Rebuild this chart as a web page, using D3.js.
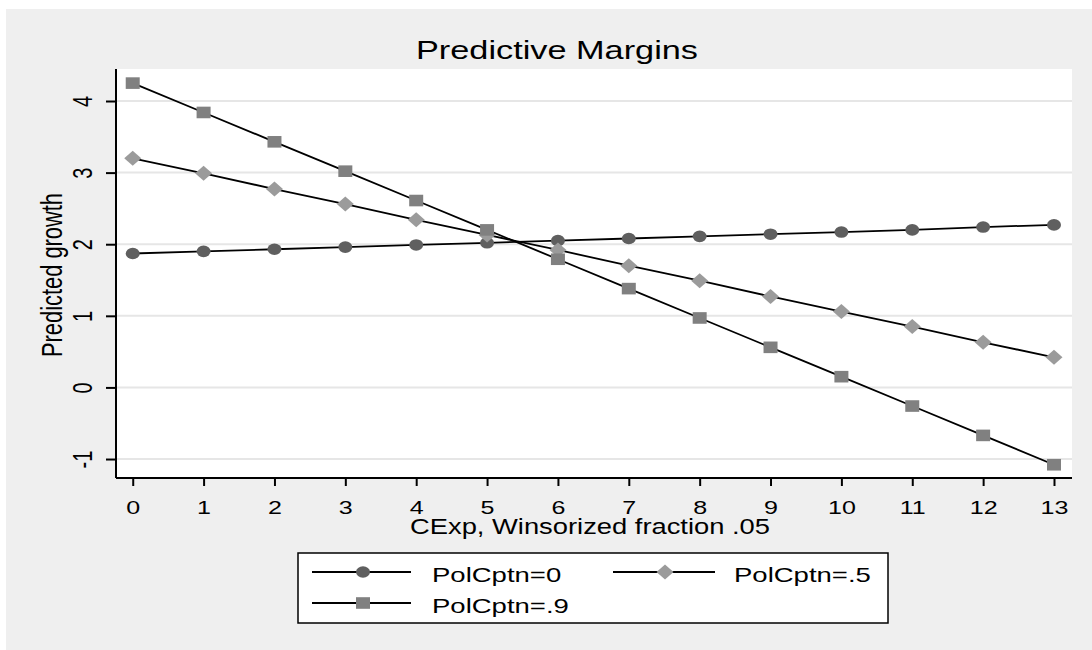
<!DOCTYPE html>
<html>
<head>
<meta charset="utf-8">
<script src="https://cdn.jsdelivr.net/npm/d3@7"></script>
<style>
  html, body { margin: 0; padding: 0; background: #ffffff; }
  svg { display: block; }
  text { font-family: "Liberation Sans", Arial, Helvetica, sans-serif; fill: #000; }
</style>
</head>
<body>
<svg id="chart" width="1092" height="650"></svg>
<script>
// ---- data ----
const xValues = [0, 1, 2, 3, 4, 5, 6, 7, 8, 9, 10, 11, 12, 13];
const seriesNames = ["PolCptn=0", "PolCptn=.5", "PolCptn=.9"];
const pol0  = [1.87, 1.90, 1.93, 1.96, 1.99, 2.02, 2.05, 2.08, 2.11, 2.14, 2.17, 2.20, 2.24, 2.27];
const pol05 = [3.20, 2.99, 2.77, 2.56, 2.34, 2.13, 1.92, 1.70, 1.49, 1.27, 1.06, 0.85, 0.63, 0.42];
const pol09 = [4.25, 3.84, 3.43, 3.02, 2.61, 2.20, 1.79, 1.38, 0.97, 0.56, 0.15, -0.26, -0.67, -1.08];
const xTicks = [0, 1, 2, 3, 4, 5, 6, 7, 8, 9, 10, 11, 12, 13];
const yTicks = [-1, 0, 1, 2, 3, 4];
const titleText = "Predictive Margins";
const xTitle = "CExp, Winsorized fraction .05";
const yTitle = "Predicted growth";

const series = [
  { name: seriesNames[0], values: pol0,  shape: "circle",  color: "#5f5f5f" },
  { name: seriesNames[1], values: pol05, shape: "diamond", color: "#9b9b9b" },
  { name: seriesNames[2], values: pol09, shape: "square",  color: "#808080" }
];

// ---- layout ----
const SX = 1.32; // horizontal glyph stretch seen in reference
const plot = { left: 116, right: 1072, top: 69, bottom: 478 };

const svg = d3.select("#chart");

// outer gray background
svg.append("rect").attr("x", 6).attr("y", 9).attr("width", 1092 - 6).attr("height", 650 - 9)
  .attr("fill", "#efefef");

// plot area
svg.append("rect").attr("x", plot.left).attr("y", plot.top)
  .attr("width", plot.right - plot.left).attr("height", plot.bottom - plot.top)
  .attr("fill", "#ffffff");

const x = d3.scaleLinear().domain([-0.236, 13.254]).range([plot.left, plot.right]);
const y = d3.scaleLinear().domain([-1.265, 4.447]).range([plot.bottom, plot.top]);

// gridlines
svg.append("g").selectAll("line").data(yTicks).join("line")
  .attr("x1", plot.left).attr("x2", plot.right)
  .attr("y1", d => y(d)).attr("y2", d => y(d))
  .attr("stroke", "#e6e6e6").attr("stroke-width", 2);

const fmt = d => String(d); // plain hyphen for negatives, as in reference

// x axis
const gx = svg.append("g").attr("transform", `translate(0,${plot.bottom})`)
  .call(d3.axisBottom(x).tickValues(xTicks).tickSize(8).tickSizeOuter(0).tickFormat(fmt));
gx.select(".domain").attr("stroke", "#000").attr("stroke-width", 2)
  .attr("d", `M${plot.left},0H${plot.right}`);
gx.selectAll(".tick line").attr("stroke", "#000").attr("stroke-width", 2);
gx.selectAll(".tick text")
  .attr("y", 0).attr("dy", 0)
  .attr("transform", `translate(0,36) scale(${SX},1)`)
  .style("font-size", "19px").style("font-family", '"Liberation Sans", Arial, sans-serif')
  .attr("fill", "#000");

// y axis
const gy = svg.append("g").attr("transform", `translate(${plot.left},0)`)
  .call(d3.axisLeft(y).tickValues(yTicks).tickSize(10).tickSizeOuter(0).tickFormat(fmt));
gy.select(".domain").attr("stroke", "#000").attr("stroke-width", 2)
  .attr("d", `M0,${plot.top}V${plot.bottom}`);
gy.selectAll(".tick line").attr("stroke", "#000").attr("stroke-width", 2);
gy.selectAll(".tick text")
  .attr("x", 0).attr("dy", 0)
  .attr("text-anchor", "middle")
  .attr("transform", `translate(-24,0) scale(1.42,1) rotate(-90)`)
  .style("font-size", "20px").style("font-family", '"Liberation Sans", Arial, sans-serif')
  .attr("fill", "#000");

// lines
const line = d3.line().x((d, i) => x(xValues[i])).y(d => y(d));
series.forEach(s => {
  svg.append("path").datum(s.values).attr("d", line)
    .attr("fill", "none").attr("stroke", "#000").attr("stroke-width", 1.8);
});

// markers
function drawMarker(g, shape, cx, cy, color) {
  if (shape === "circle") {
    g.append("ellipse").attr("cx", cx).attr("cy", cy).attr("rx", 7).attr("ry", 5.8).attr("fill", color);
  } else if (shape === "square") {
    g.append("rect").attr("x", cx - 7).attr("y", cy - 5.8).attr("width", 14).attr("height", 11.6).attr("fill", color);
  } else {
    g.append("path").attr("d", `M${cx},${cy - 7.5}L${cx + 8.5},${cy}L${cx},${cy + 7.5}L${cx - 8.5},${cy}Z`).attr("fill", color);
  }
}
series.forEach(s => {
  const g = svg.append("g");
  s.values.forEach((v, i) => drawMarker(g, s.shape, x(xValues[i]), y(v), s.color));
});

// titles
svg.append("text").attr("x", 557).attr("y", 59).attr("text-anchor", "middle")
  .style("font-size", "25px").attr("textLength", 282).attr("lengthAdjust", "spacingAndGlyphs")
  .text(titleText);

svg.append("text").attr("x", 590).attr("y", 534).attr("text-anchor", "middle")
  .style("font-size", "22px").attr("textLength", 360).attr("lengthAdjust", "spacingAndGlyphs")
  .text(xTitle);

svg.append("text").attr("text-anchor", "middle")
  .attr("transform", `translate(62,275) scale(1.38,1) rotate(-90)`)
  .style("font-size", "22px").attr("textLength", 164).attr("lengthAdjust", "spacingAndGlyphs")
  .text(yTitle);

// legend
const lg = svg.append("g");
lg.append("rect").attr("x", 298).attr("y", 553).attr("width", 590).attr("height", 70)
  .attr("fill", "#ffffff").attr("stroke", "#000").attr("stroke-width", 1.5);
const legendPos = [
  { lx1: 312, lx2: 411, mx: 363, tx: 432, ly: 572 },
  { lx1: 613, lx2: 715, mx: 665, tx: 734, ly: 572 },
  { lx1: 312, lx2: 411, mx: 363, tx: 432, ly: 603 }
];
series.forEach((s, i) => {
  const p = legendPos[i];
  lg.append("line").attr("x1", p.lx1).attr("x2", p.lx2).attr("y1", p.ly).attr("y2", p.ly)
    .attr("stroke", "#000").attr("stroke-width", 1.8);
  drawMarker(lg, s.shape, p.mx, p.ly, s.color);
  lg.append("text").attr("transform", `translate(${p.tx},${p.ly + 10}) scale(${SX - 0.01},1)`)
    .style("font-size", "21px").text(s.name);
});
</script>
</body>
</html>
